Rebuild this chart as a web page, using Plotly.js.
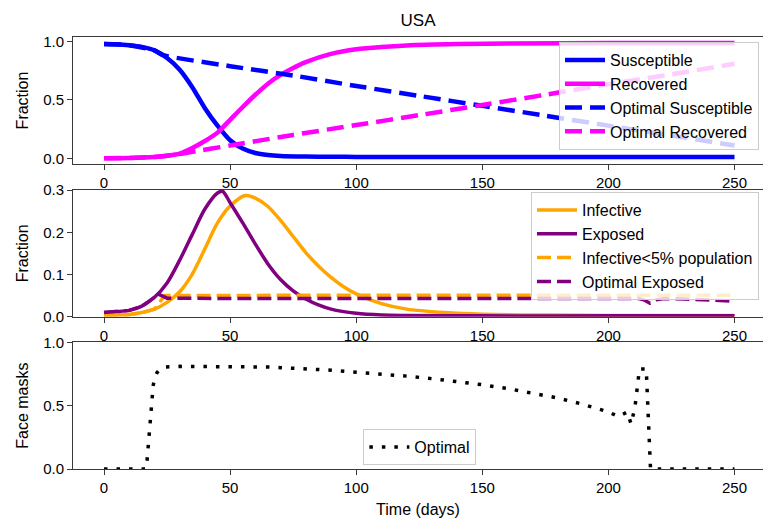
<!DOCTYPE html>
<html>
<head>
<meta charset="utf-8">
<script src="https://cdn.plot.ly/plotly-3.0.1.min.js"></script>
<style>html,body{margin:0;padding:0;background:#fff;}#chart{width:763px;height:522px;}</style>
</head>
<body>
<div id="chart"></div>
<script>
// ---- Data ----
const xTicks = [0, 50, 100, 150, 200, 250];

// Panel 1: Susceptible / Recovered
const tS = [0, 5, 10, 15, 20, 25, 30, 35, 40, 45, 50, 55, 60, 65, 70, 80, 90, 100, 120, 150, 200, 250];
const susceptible = [0.98, 0.978, 0.97, 0.955, 0.925, 0.86, 0.76, 0.61, 0.43, 0.28, 0.155, 0.083, 0.045, 0.028, 0.02, 0.015, 0.013, 0.012, 0.012, 0.012, 0.012, 0.012];
const tR = [0, 10, 20, 25, 30, 35, 40, 45, 50, 55, 60, 65, 70, 75, 80, 90, 100, 110, 120, 140, 160, 200, 250];
const recovered = [0.0, 0.003, 0.012, 0.022, 0.04, 0.088, 0.148, 0.22, 0.33, 0.44, 0.545, 0.64, 0.715, 0.775, 0.825, 0.895, 0.935, 0.955, 0.968, 0.979, 0.984, 0.988, 0.988];
const tOptS = [0, 10, 20, 23, 50, 75, 100, 125, 150, 175, 200, 225, 250];
const optSusceptible = [0.98, 0.97, 0.925, 0.886, 0.79, 0.71, 0.62, 0.535, 0.45, 0.365, 0.28, 0.195, 0.11];
const tOptR = [0, 10, 20, 25, 30, 35, 50, 75, 100, 125, 150, 175, 200, 225, 250];
const optRecovered = [0.0, 0.003, 0.012, 0.022, 0.037, 0.055, 0.11, 0.2, 0.285, 0.37, 0.457, 0.545, 0.635, 0.72, 0.81];

// Panel 2: Infective / Exposed
const tI = [0, 10, 15, 20, 25, 30, 35, 40, 45, 50, 56, 60, 65, 70, 75, 80, 85, 90, 95, 100, 110, 120, 135, 150, 175, 200, 250];
const infective = [0.004, 0.005, 0.01, 0.018, 0.034, 0.059, 0.101, 0.161, 0.222, 0.262, 0.287, 0.281, 0.261, 0.228, 0.19, 0.152, 0.12, 0.093, 0.071, 0.054, 0.031, 0.018, 0.01, 0.006, 0.004, 0.003, 0.003];
const tE = [0, 5, 10, 15, 20, 25, 30, 35, 40, 45, 47, 50, 55, 60, 65, 70, 75, 80, 85, 90, 100, 110, 120, 150, 200, 250];
const exposed = [0.01, 0.012, 0.015, 0.025, 0.046, 0.08, 0.134, 0.195, 0.255, 0.293, 0.297, 0.27, 0.222, 0.172, 0.125, 0.088, 0.061, 0.042, 0.028, 0.018, 0.008, 0.004, 0.003, 0.002, 0.002, 0.002];
const tInfCap = [0, 10, 15, 20, 24, 50, 100, 150, 200, 250];
const infectiveCap = [0.004, 0.005, 0.01, 0.018, 0.05, 0.051, 0.051, 0.051, 0.051, 0.051];
const tOptE = [0, 5, 10, 15, 20, 21, 25, 50, 100, 150, 200, 212, 214, 216.5, 219, 222, 230, 240, 250];
const optExposed = [0.01, 0.012, 0.015, 0.025, 0.046, 0.055, 0.044, 0.043, 0.043, 0.043, 0.043, 0.043, 0.04, 0.032, 0.04, 0.043, 0.042, 0.04, 0.037];

// Panel 3: Face masks control
const tU = [0, 16.5, 17, 18, 19, 19.5, 20, 21, 22, 24, 30, 40, 50, 60, 65, 70, 80, 90, 100, 110, 120, 130, 140, 150, 160, 170, 180, 190, 195, 200, 204, 207.5, 209, 210.5, 211.5, 212.3, 215, 216.7, 220, 230, 240, 250];
const faceMasks = [0, 0, 0.05, 0.3, 0.55, 0.66, 0.71, 0.76, 0.785, 0.805, 0.81, 0.81, 0.81, 0.81, 0.805, 0.8, 0.79, 0.78, 0.763, 0.75, 0.733, 0.713, 0.69, 0.665, 0.635, 0.6, 0.56, 0.51, 0.48, 0.45, 0.414, 0.45, 0.355, 0.485, 0.65, 0.79, 0.79, 0.0, 0, 0, 0, 0];

// ---- Styling ----
const FONT = 'Liberation Sans, Arial, Helvetica, sans-serif';
const AX = '#3a3a3a';
const BLUE = '#0000ff', MAGENTA = '#ff00ff', ORANGE = '#ffa500', PURPLE = '#800080';
const DASH_TOP = '17px,8px';
const DASH_MID = '14px,6px';
const DOTS = '3.5px,9px';

const traces = [
  {x: tS, y: susceptible, name: 'Susceptible', xaxis: 'x', yaxis: 'y', legend: 'legend',
   mode: 'lines', line: {color: BLUE, width: 4.5, shape: 'spline', smoothing: 0.8}},
  {x: tR, y: recovered, name: 'Recovered', xaxis: 'x', yaxis: 'y', legend: 'legend',
   mode: 'lines', line: {color: MAGENTA, width: 4.5, shape: 'spline', smoothing: 0.8}},
  {x: tOptS, y: optSusceptible, name: 'Optimal Susceptible', xaxis: 'x', yaxis: 'y', legend: 'legend',
   mode: 'lines', line: {color: BLUE, width: 4.5, dash: DASH_TOP, shape: 'spline', smoothing: 0.5}},
  {x: tOptR, y: optRecovered, name: 'Optimal Recovered', xaxis: 'x', yaxis: 'y', legend: 'legend',
   mode: 'lines', line: {color: MAGENTA, width: 4.5, dash: DASH_TOP, shape: 'spline', smoothing: 0.5}},

  {x: tI, y: infective, name: 'Infective', xaxis: 'x2', yaxis: 'y2', legend: 'legend2',
   mode: 'lines', line: {color: ORANGE, width: 3.5, shape: 'spline', smoothing: 0.8}},
  {x: tE, y: exposed, name: 'Exposed', xaxis: 'x2', yaxis: 'y2', legend: 'legend2',
   mode: 'lines', line: {color: PURPLE, width: 3.5, shape: 'spline', smoothing: 0.8}},
  {x: tInfCap, y: infectiveCap, name: 'Infective<5% population', xaxis: 'x2', yaxis: 'y2', legend: 'legend2',
   mode: 'lines', line: {color: ORANGE, width: 3.5, dash: DASH_MID}},
  {x: tOptE, y: optExposed, name: 'Optimal Exposed', xaxis: 'x2', yaxis: 'y2', legend: 'legend2',
   mode: 'lines', line: {color: PURPLE, width: 3.5, dash: DASH_MID}},

  {x: tU, y: faceMasks, name: 'Optimal', xaxis: 'x3', yaxis: 'y3', legend: 'legend3',
   mode: 'lines', line: {color: '#000000', width: 3.5, dash: DOTS}}
];

function xAxis(anchor, title) {
  const a = {
    anchor: anchor, domain: [0, 1], range: [-12.3, 261.3],
    tickmode: 'array', tickvals: xTicks, ticktext: xTicks.map(String),
    ticks: 'outside', ticklen: 5, tickwidth: 1, tickcolor: AX,
    showline: true, linecolor: AX, linewidth: 1, mirror: true,
    showgrid: false, zeroline: false,
    tickfont: {family: FONT, size: 15, color: '#000'}
  };
  if (title) a.title = {text: title, font: {family: FONT, size: 16, color: '#000'}, standoff: 8};
  return a;
}
function yAxis(anchor, domain, range, tickvals, title) {
  return {
    anchor: anchor, domain: domain, range: range,
    tickmode: 'array', tickvals: tickvals, ticktext: tickvals.map(v => v.toFixed(1)),
    ticks: 'outside', ticklen: 5, tickwidth: 1, tickcolor: AX,
    showline: true, linecolor: AX, linewidth: 1, mirror: true,
    showgrid: false, zeroline: false, automargin: true,
    tickfont: {family: FONT, size: 15, color: '#000'},
    title: {text: title, font: {family: FONT, size: 16, color: '#000'}, standoff: 10}
  };
}
function legendBox(x, y, xanchor, yanchor) {
  return {
    x: x, y: y, xanchor: xanchor, yanchor: yanchor, xref: 'paper', yref: 'paper',
    bgcolor: 'rgba(255,255,255,0.8)', bordercolor: '#cccccc', borderwidth: 1,
    itemwidth: 40,
    font: {family: FONT, size: 16, color: '#000'}
  };
}

const layout = {
  width: 763, height: 522,
  margin: {l: 73, r: 0, t: 37, b: 53, pad: 0},
  paper_bgcolor: '#ffffff', plot_bgcolor: '#ffffff',
  font: {family: FONT, size: 15, color: '#000'},
  title: {text: 'USA', x: 0.5, xref: 'paper', y: 0.962, yref: 'container', yanchor: 'middle',
          font: {family: FONT, size: 17, color: '#000'}},
  showlegend: true,
  xaxis: xAxis('y'),
  yaxis: yAxis('x', [0.706, 1.0], [-0.049, 1.04], [0, 0.5, 1.0], 'Fraction'),
  xaxis2: xAxis('y2'),
  yaxis2: yAxis('x2', [0.3525, 0.6458], [0, 0.3], [0, 0.1, 0.2, 0.3], 'Fraction'),
  xaxis3: xAxis('y3', 'Time (days)'),
  yaxis3: yAxis('x3', [0, 0.2933], [0, 1], [0, 0.5, 1.0], 'Face masks'),
  legend: legendBox(0.9942, 0.9884, 'right', 'top'),
  legend2: legendBox(0.9942, 0.641, 'right', 'top'),
  legend3: legendBox(0.5027, 0.0093, 'center', 'bottom')
};

Plotly.newPlot('chart', traces, layout, {displayModeBar: false, staticPlot: true});
</script>
</body>
</html>
